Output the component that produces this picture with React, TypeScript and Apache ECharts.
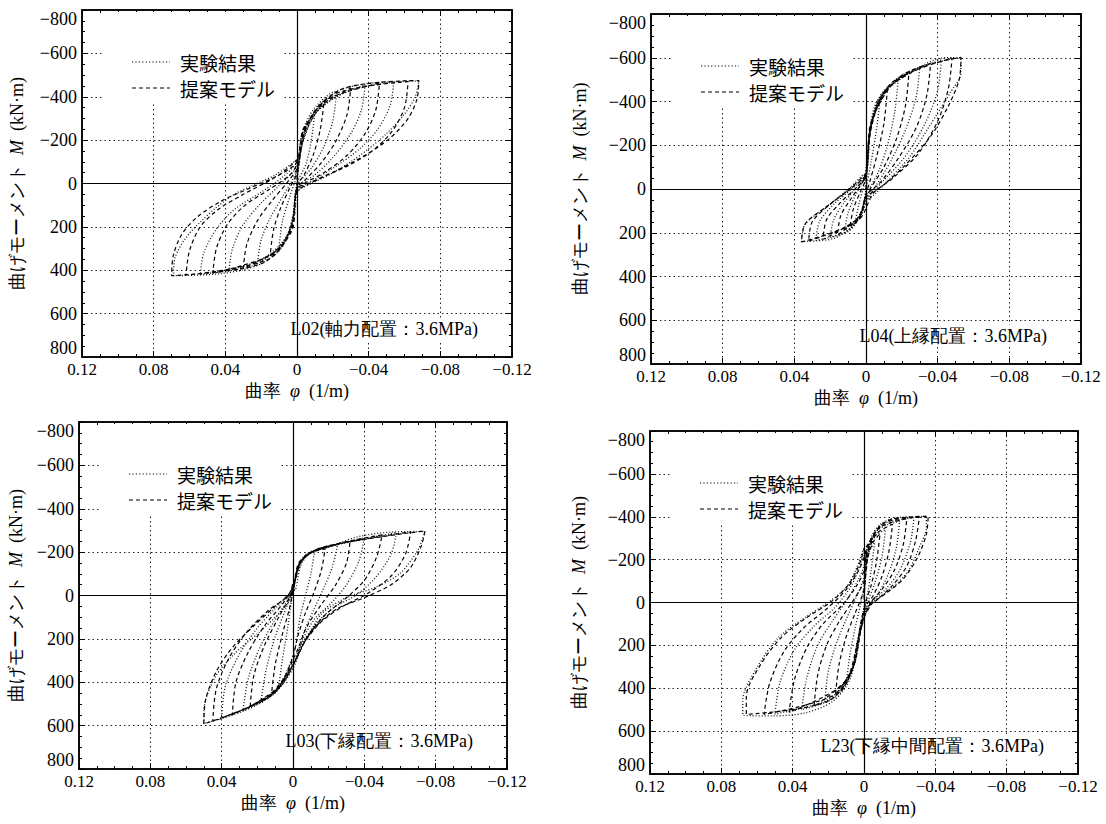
import React, { useEffect, useRef } from "react";
import * as echarts from "echarts";

// ---------- texts ----------
const LEGEND_EXP = "実験結果";
const LEGEND_MODEL = "提案モデル";
const PANEL_LABELS = [
  "L02(軸力配置：3.6MPa)",
  "L04(上縁配置：3.6MPa)",
  "L03(下縁配置：3.6MPa)",
  "L23(下縁中間配置：3.6MPa)",
];
const X_NAME = "曲率  {it|φ}  (1/m)";
const Y_NAME = "曲げモーメント  {it|M}  (kN·m)";

// ---------- axes ----------
const X_MIN = -0.12;
const X_MAX = 0.12;
const X_STEP = 0.04;
const Y_MIN = -800;
const Y_MAX = 800;
const Y_STEP = 200;

// ---------- data: [curvature (1/m), moment (kN·m)] ----------
const L02_EXP = [
  [0, 0], [-0.002, -150], [-0.005, -260], [-0.01, -330], [-0.008, -200], [-0.005, -90], [0, 0], [0.002, 130], [0.005, 230], [0.01, 290], [0.008, 170], [0.004, 60], [0, -40],
  [-0.003, -180], [-0.008, -290], [-0.015, -370], [-0.022, -410], [-0.02, -290], [-0.015, -170], [-0.008, -70], [0, 10], [0.002, 150], [0.006, 250], [0.013, 320], [0.022, 360], [0.02, 260], [0.015, 160], [0.008, 60], [0, -60],
  [-0.003, -190], [-0.01, -320], [-0.022, -400], [-0.038, -455], [-0.036, -340], [-0.03, -230], [-0.02, -120], [-0.01, -40], [0, 20], [0.002, 150], [0.007, 260], [0.02, 350], [0.038, 400], [0.036, 300], [0.03, 190], [0.02, 90], [0.01, 10], [0, -80],
  [-0.004, -220], [-0.012, -340], [-0.03, -430], [-0.054, -468], [-0.052, -360], [-0.045, -250], [-0.035, -160], [-0.02, -70], [-0.008, -10], [0, 30], [0.002, 160], [0.008, 280], [0.025, 380], [0.054, 418], [0.052, 320], [0.045, 210], [0.035, 120], [0.02, 40], [0.008, -30], [0, -100],
  [-0.002, -200], [-0.005, -280], [-0.01, -350], [-0.02, -420], [-0.04, -462], [-0.068, -472], [-0.066, -400], [-0.06, -320], [-0.05, -230], [-0.04, -160], [-0.03, -100], [-0.018, -40], [-0.008, 0], [0, 40], [0.001, 120], [0.003, 190], [0.006, 260], [0.01, 310], [0.02, 370], [0.03, 398], [0.045, 418], [0.069, 425], [0.068, 340], [0.062, 250], [0.053, 170], [0.045, 110], [0.035, 50], [0.025, 10], [0.012, -40], [0, -110],
];
const L02_MODEL = [
  [0, -20], [-0.003, -200], [-0.008, -310], [-0.015, -370], [-0.013, -250], [-0.009, -130], [-0.004, -40], [0, 10], [0.002, 170], [0.007, 270], [0.015, 330], [0.013, 210], [0.009, 110], [0.004, 20], [0, -50],
  [-0.004, -230], [-0.012, -350], [-0.03, -440], [-0.028, -320], [-0.022, -200], [-0.014, -100], [-0.005, -20], [0, 20], [0.003, 190], [0.01, 300], [0.03, 390], [0.028, 280], [0.022, 170], [0.014, 80], [0.005, -10], [0, -70],
  [-0.004, -240], [-0.015, -380], [-0.046, -462], [-0.044, -340], [-0.038, -230], [-0.028, -130], [-0.015, -50], [-0.004, 0], [0, 30], [0.003, 200], [0.012, 320], [0.047, 414], [0.045, 300], [0.039, 190], [0.029, 100], [0.016, 30], [0.004, -40], [0, -90],
  [-0.004, -250], [-0.02, -410], [-0.062, -470], [-0.06, -350], [-0.053, -240], [-0.042, -150], [-0.028, -80], [-0.012, -20], [0, 40], [0.003, 210], [0.016, 350], [0.062, 423], [0.06, 310], [0.054, 200], [0.044, 120], [0.03, 50], [0.014, -20], [0, -100],
  [-0.004, -260], [-0.025, -435], [-0.068, -475], [-0.067, -390], [-0.062, -300], [-0.052, -210], [-0.038, -130], [-0.022, -60], [-0.008, -5], [0, 40], [0.003, 220], [0.02, 370], [0.07, 425], [0.069, 330], [0.064, 230], [0.055, 150], [0.042, 80], [0.026, 20], [0.01, -40], [0, -110],
];

const L04_EXP = [
  [0, 0], [-0.002, -250], [-0.005, -370], [-0.008, -420], [-0.006, -280], [-0.003, -130], [0, 0], [0.002, 90], [0.006, 150], [0.004, 70], [0.001, -20], [0, -60],
  [-0.002, -250], [-0.008, -420], [-0.018, -500], [-0.016, -350], [-0.012, -200], [-0.007, -80], [-0.002, 0], [0.002, 100], [0.007, 170], [0.012, 190], [0.01, 110], [0.006, 30], [0.001, -50],
  [0, -100], [-0.003, -300], [-0.01, -440], [-0.03, -560], [-0.028, -420], [-0.022, -270], [-0.014, -130], [-0.006, -20], [-0.001, 40], [0.003, 120], [0.01, 190], [0.02, 220], [0.018, 140], [0.012, 60], [0.005, -10], [0, -70],
  [-0.002, -260], [-0.008, -420], [-0.02, -520], [-0.042, -590], [-0.04, -450], [-0.033, -300], [-0.022, -150], [-0.01, -40], [-0.002, 30], [0.003, 120], [0.01, 195], [0.028, 235], [0.026, 150], [0.018, 70], [0.008, 0], [0, -70],
  [-0.002, -254], [-0.0047, -375], [-0.0105, -453], [-0.024, -530], [-0.044, -600], [-0.053, -600], [-0.053, -530], [-0.047, -440], [-0.035, -282], [-0.024, -143], [-0.012, -37], [-0.005, 23], [0, 55], [0.003, 116], [0.0087, 180], [0.0186, 228], [0.036, 240], [0.034, 162], [0.023, 88], [0.011, 9], [0.001, -70],
];
const L04_MODEL = [
  [0, 0], [-0.003, -300], [-0.012, -460], [-0.01, -300], [-0.006, -150], [-0.002, -30], [0, 20], [0.003, 110], [0.009, 175], [0.007, 90], [0.003, 10], [0, -50],
  [-0.003, -280], [-0.01, -440], [-0.024, -535], [-0.022, -380], [-0.017, -230], [-0.01, -100], [-0.003, -10], [0, 30], [0.003, 120], [0.016, 210], [0.014, 120], [0.008, 40], [0.002, -30], [0, -60],
  [-0.003, -290], [-0.012, -460], [-0.036, -575], [-0.034, -430], [-0.028, -280], [-0.018, -140], [-0.008, -30], [0, 30], [0.004, 130], [0.024, 230], [0.022, 140], [0.014, 60], [0.005, -10], [0, -60],
  [-0.003, -300], [-0.015, -490], [-0.048, -598], [-0.046, -460], [-0.04, -310], [-0.029, -160], [-0.015, -50], [-0.004, 20], [0.004, 140], [0.032, 238], [0.03, 150], [0.02, 70], [0.008, -5], [0, -70],
  [-0.003, -310], [-0.02, -520], [-0.053, -602], [-0.052, -500], [-0.046, -380], [-0.036, -240], [-0.022, -110], [-0.01, -20], [0, 40], [0.005, 150], [0.036, 242], [0.034, 160], [0.022, 80], [0.01, 5], [0, -70],
];

const L03_EXP = [
  [0, 0], [-0.002, -100], [-0.006, -180], [-0.012, -200], [-0.01, -100], [-0.007, 0], [-0.004, 100], [-0.001, 250], [0.004, 360], [0.008, 420], [0.006, 300], [0.003, 150], [0.001, 30], [0, -30],
  [-0.003, -130], [-0.008, -190], [-0.025, -235], [-0.022, -130], [-0.017, -30], [-0.012, 60], [-0.006, 170], [-0.002, 280], [0.006, 410], [0.018, 490], [0.015, 340], [0.01, 190], [0.004, 60], [0, -30],
  [-0.004, -140], [-0.01, -200], [-0.04, -265], [-0.037, -160], [-0.03, -50], [-0.022, 30], [-0.012, 110], [-0.005, 210], [0, 320], [0.01, 450], [0.028, 530], [0.025, 380], [0.018, 230], [0.01, 110], [0.003, 20], [0, -40],
  [-0.004, -140], [-0.012, -205], [-0.058, -290], [-0.055, -190], [-0.046, -80], [-0.035, 0], [-0.022, 60], [-0.012, 140], [-0.005, 230], [0, 330], [0.012, 460], [0.04, 565], [0.038, 420], [0.03, 270], [0.02, 150], [0.01, 60], [0.002, 0], [0, -40],
  [-0.001, -23], [-0.004, -130], [-0.008, -195], [-0.02, -223], [-0.036, -270], [-0.056, -293], [-0.074, -295], [-0.07, -209], [-0.06, -102], [-0.046, -37], [-0.03, 9], [-0.016, 84], [-0.01, 163], [-0.005, 220], [-0.001, 320], [0.005, 400], [0.015, 480], [0.03, 540], [0.05, 590], [0.05, 535], [0.044, 381], [0.033, 270], [0.02, 177], [0.008, 84], [0.002, 23], [0, -50],
];
const L03_MODEL = [
  [0, -20], [-0.004, -150], [-0.009, -195], [-0.018, -215], [-0.016, -120], [-0.012, -20], [-0.007, 80], [-0.003, 180], [0, 280], [0.005, 380], [0.012, 450], [0.01, 320], [0.006, 180], [0.002, 60], [0, -20],
  [-0.004, -150], [-0.012, -205], [-0.032, -250], [-0.03, -150], [-0.024, -50], [-0.016, 40], [-0.008, 140], [-0.002, 260], [0.008, 420], [0.024, 510], [0.022, 370], [0.016, 230], [0.008, 100], [0.002, 10], [0, -30],
  [-0.004, -150], [-0.014, -215], [-0.05, -280], [-0.047, -180], [-0.04, -70], [-0.03, 10], [-0.018, 90], [-0.008, 190], [-0.002, 290], [0.01, 440], [0.034, 550], [0.032, 400], [0.025, 260], [0.016, 140], [0.006, 40], [0, -40],
  [-0.004, -155], [-0.016, -220], [-0.066, -293], [-0.063, -190], [-0.055, -90], [-0.042, -10], [-0.028, 50], [-0.016, 120], [-0.007, 210], [0, 320], [0.012, 460], [0.045, 580], [0.043, 430], [0.036, 290], [0.026, 170], [0.014, 70], [0.004, 10], [0, -40],
  [-0.004, -160], [-0.02, -228], [-0.074, -298], [-0.072, -230], [-0.066, -130], [-0.055, -50], [-0.04, 10], [-0.025, 60], [-0.013, 140], [-0.006, 220], [0, 320], [0.014, 470], [0.05, 592], [0.049, 480], [0.043, 350], [0.034, 240], [0.022, 140], [0.01, 50], [0.002, -10], [0, -60],
];

const L23_EXP = [
  [0, 0], [-0.001, -150], [-0.003, -240], [-0.006, -280], [-0.004, -150], [-0.002, -40], [0, 20], [0.002, 130], [0.005, 280], [0.01, 380], [0.008, 250], [0.005, 120], [0.002, 10], [0, -80],
  [-0.001, -190], [-0.005, -300], [-0.012, -340], [-0.01, -210], [-0.006, -90], [-0.002, 0], [0.002, 120], [0.006, 300], [0.012, 400], [0.022, 460], [0.02, 320], [0.015, 180], [0.009, 60], [0.003, -50], [0, -120],
  [-0.002, -240], [-0.008, -340], [-0.02, -380], [-0.018, -250], [-0.013, -120], [-0.007, -30], [-0.002, 20], [0.003, 170], [0.008, 340], [0.018, 450], [0.035, 500], [0.032, 350], [0.026, 200], [0.018, 90], [0.009, -20], [0.003, -110], [0, -170],
  [-0.002, -260], [-0.009, -360], [-0.028, -395], [-0.026, -280], [-0.02, -150], [-0.012, -60], [-0.004, 0], [0.002, 120], [0.006, 300], [0.016, 440], [0.05, 520], [0.047, 370], [0.039, 220], [0.028, 110], [0.016, 20], [0.007, -80], [0.002, -180], [0, -230],
  [-0.001, -196], [-0.004, -304], [-0.01, -370], [-0.021, -398], [-0.035, -400], [-0.035, -351], [-0.031, -257], [-0.025, -150], [-0.016, -70], [-0.006, -9], [-0.002, 23], [0.001, 70], [0.004, 192], [0.0075, 351], [0.017, 458], [0.033, 515], [0.052, 529], [0.068, 525], [0.068, 458], [0.06, 304], [0.048, 164], [0.033, 70], [0.021, 5], [0.01, -70], [0.004, -164], [0, -257],
];
const L23_MODEL = [
  [0, -20], [-0.002, -200], [-0.005, -280], [-0.009, -320], [-0.007, -190], [-0.004, -80], [-0.001, 0], [0.002, 140], [0.006, 300], [0.016, 430], [0.014, 290], [0.01, 160], [0.005, 50], [0, -60],
  [-0.002, -220], [-0.007, -320], [-0.016, -365], [-0.014, -240], [-0.01, -120], [-0.005, -30], [0, 30], [0.004, 200], [0.01, 360], [0.028, 485], [0.026, 340], [0.021, 200], [0.014, 90], [0.006, -10], [0, -100],
  [-0.002, -240], [-0.009, -350], [-0.024, -390], [-0.022, -270], [-0.017, -150], [-0.01, -60], [-0.003, 10], [0.003, 160], [0.01, 370], [0.042, 512], [0.039, 360], [0.032, 210], [0.023, 100], [0.012, 10], [0.004, -80], [0, -150],
  [-0.002, -260], [-0.011, -370], [-0.031, -398], [-0.029, -290], [-0.024, -170], [-0.016, -80], [-0.007, -10], [0, 40], [0.005, 250], [0.014, 420], [0.056, 522], [0.053, 380], [0.045, 230], [0.034, 120], [0.021, 30], [0.01, -60], [0.003, -150], [0, -210],
  [-0.002, -270], [-0.014, -385], [-0.036, -402], [-0.035, -320], [-0.03, -210], [-0.022, -110], [-0.012, -40], [-0.004, 10], [0.002, 120], [0.006, 300], [0.02, 460], [0.066, 522], [0.066, 440], [0.058, 290], [0.046, 160], [0.032, 70], [0.019, 0], [0.009, -80], [0.003, -170], [0, -250],
];

const EXP_SERIES = [L02_EXP, L04_EXP, L03_EXP, L23_EXP];
const MODEL_SERIES = [L02_MODEL, L04_MODEL, L03_MODEL, L23_MODEL];

// ---------- layout (pixels) ----------
const LAYOUT = [
  { left: 82, top: 10, width: 430, height: 347, yGap: 56 },
  { left: 651, top: 14, width: 430, height: 350, yGap: 62 },
  { left: 79, top: 422, width: 428, height: 347, yGap: 54 },
  { left: 650, top: 431, width: 428, height: 343, yGap: 62 },
];

const FONT = "Liberation Serif";
const CJK = "Noto Sans CJK JP";

function fmtX(v: number) {
  const r = Math.round(v * 100) / 100;
  if (Math.abs(r) < 1e-9) return "0";
  return r < 0 ? "−" + Math.abs(r).toFixed(2) : r.toFixed(2);
}
function fmtY(v: number) {
  const r = Math.round(v);
  if (r === 0) return "0";
  return r < 0 ? "−" + Math.abs(r) : String(r);
}

function mkTick() {
  return { show: true, inside: true, length: 6, lineStyle: { color: "#000", width: 1 } };
}
function mkMinor() {
  return { show: true, splitNumber: 4, length: 3, lineStyle: { color: "#000", width: 1 } };
}

function buildOption() {
  const grid: any[] = [];
  const xAxis: any[] = [];
  const yAxis: any[] = [];
  const series: any[] = [];
  const graphic: any[] = [];

  const italicRich = () => ({ it: { fontStyle: "italic", fontFamily: FONT, fontSize: 18, color: "#000" } });

  LAYOUT.forEach((g, i) => {
    grid.push({
      left: g.left, top: g.top, width: g.width, height: g.height,
      show: true, borderColor: "#000", borderWidth: 1.5,
    });
    xAxis.push({
      type: "value", gridIndex: i, min: X_MIN, max: X_MAX, interval: X_STEP, inverse: true,
      position: "bottom",
      axisLine: { show: true, onZero: false, lineStyle: { color: "#000", width: 1.5 } },
      axisTick: mkTick(), minorTick: mkMinor(),
      splitLine: { show: true, lineStyle: { type: [1.5, 3], color: "#222", width: 1 } },
      axisLabel: { formatter: fmtX, color: "#000", fontSize: 17, fontFamily: FONT, margin: 4 },
      name: X_NAME, nameLocation: "middle", nameGap: 25,
      nameTextStyle: { color: "#000", fontSize: 18, fontFamily: FONT, rich: italicRich() },
    });
    xAxis.push({
      type: "value", gridIndex: i, min: X_MIN, max: X_MAX, interval: X_STEP, inverse: true,
      position: "top",
      axisLine: { show: true, onZero: false, lineStyle: { color: "#000", width: 1.5 } },
      axisTick: mkTick(), minorTick: mkMinor(), splitLine: { show: false },
      axisLabel: { show: false },
    });
    yAxis.push({
      type: "value", gridIndex: i, min: Y_MIN, max: Y_MAX, interval: Y_STEP, inverse: true,
      position: "left",
      axisLine: { show: true, onZero: false, lineStyle: { color: "#000", width: 1.5 } },
      axisTick: mkTick(), minorTick: mkMinor(),
      splitLine: { show: true, lineStyle: { type: [1.5, 3], color: "#222", width: 1 } },
      axisLabel: {
        formatter: fmtY, color: "#000", fontSize: 18, fontFamily: FONT, margin: 5,
        verticalAlignMinLabel: "top", verticalAlignMaxLabel: "bottom",
      },
      name: Y_NAME, nameLocation: "middle", nameGap: g.yGap,
      nameTextStyle: { color: "#000", fontSize: 18, fontFamily: FONT, rich: italicRich() },
    });
    yAxis.push({
      type: "value", gridIndex: i, min: Y_MIN, max: Y_MAX, interval: Y_STEP, inverse: true,
      position: "right",
      axisLine: { show: true, onZero: false, lineStyle: { color: "#000", width: 1.5 } },
      axisTick: mkTick(), minorTick: mkMinor(), splitLine: { show: false },
      axisLabel: { show: false },
    });

    series.push({
      type: "line", name: LEGEND_EXP, xAxisIndex: 2 * i, yAxisIndex: 2 * i,
      data: EXP_SERIES[i], showSymbol: false, symbol: "none", smooth: 0.3, silent: true, z: 3,
      lineStyle: { type: [1, 2], width: 1.3, color: "#111" },
      markLine: {
        silent: true, symbol: ["none", "none"], label: { show: false },
        lineStyle: { type: "solid", color: "#000", width: 1.2 },
        data: [{ xAxis: 0 }, { yAxis: 0 }],
      },
    });
    series.push({
      type: "line", name: LEGEND_MODEL, xAxisIndex: 2 * i, yAxisIndex: 2 * i,
      data: MODEL_SERIES[i], showSymbol: false, symbol: "none", smooth: 0.3, silent: true, z: 4,
      lineStyle: { type: [4, 3], width: 1.2, color: "#000" },
    });

    // legend block with white background
    graphic.push({
      type: "rect", silent: true, z: 1,
      shape: { x: g.left + 20, y: g.top + 2, width: 182, height: 92 },
      style: { fill: "#fff" },
    });
    graphic.push({
      type: "line", silent: true, z: 5,
      shape: { x1: g.left + 50, y1: g.top + 52, x2: g.left + 88, y2: g.top + 52 },
      style: { stroke: "#000", lineWidth: 1, lineDash: [1.2, 2.2] },
    });
    graphic.push({
      type: "text", silent: true, z: 5, x: g.left + 98, y: g.top + 52,
      style: { text: LEGEND_EXP, fill: "#000", fontSize: 19, fontFamily: CJK, verticalAlign: "middle", align: "left" },
    });
    graphic.push({
      type: "line", silent: true, z: 5,
      shape: { x1: g.left + 50, y1: g.top + 78, x2: g.left + 88, y2: g.top + 78 },
      style: { stroke: "#000", lineWidth: 1, lineDash: [4, 3] },
    });
    graphic.push({
      type: "text", silent: true, z: 5, x: g.left + 98, y: g.top + 78,
      style: { text: LEGEND_MODEL, fill: "#000", fontSize: 19, fontFamily: CJK, verticalAlign: "middle", align: "left" },
    });
    // panel label
    graphic.push({
      type: "text", silent: true, z: 5, x: g.left + g.width - 30, y: g.top + g.height - 28,
      style: {
        text: PANEL_LABELS[i], fill: "#000", fontSize: 18, fontFamily: FONT,
        verticalAlign: "middle", align: "right", backgroundColor: "#fff", padding: [2, 4],
      },
    });
  });

  return {
    animation: false,
    backgroundColor: "#fff",
    grid, xAxis, yAxis, series, graphic,
  };
}

export default function App() {
  const ref = useRef<HTMLDivElement>(null);
  useEffect(() => {
    if (!ref.current) return;
    const chart = echarts.init(ref.current, undefined, { renderer: "svg" });
    chart.setOption(buildOption() as any);
    return () => chart.dispose();
  }, []);
  return (
    <div
      ref={ref}
      style={{ position: "absolute", left: 0, top: 0, width: 1106, height: 824, background: "#fff" }}
    />
  );
}
